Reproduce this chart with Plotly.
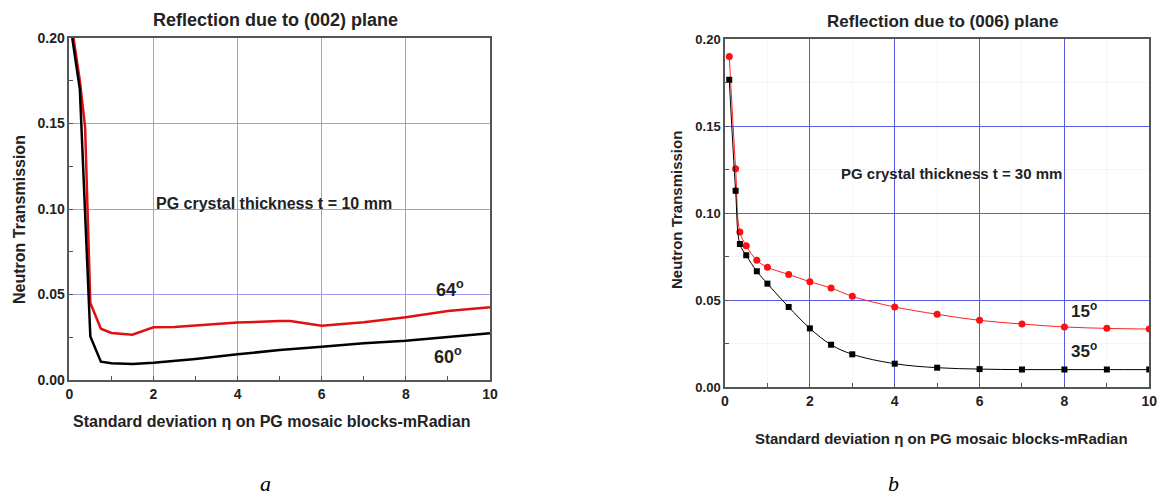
import plotly.graph_objects as go

# ---- Panel a: (002) plane, t = 10 mm ----
a_x = [0.1, 0.25, 0.375, 0.5, 0.75, 1.0, 1.5, 2.0, 2.5, 3.0, 4.0, 5.0, 5.25, 6.0, 7.0, 8.0, 9.0, 10.0]
a_64 = [0.200, 0.175, 0.148, 0.045, 0.030, 0.0275, 0.0265, 0.0308, 0.031, 0.032, 0.0336, 0.0345, 0.0345, 0.0318, 0.0338, 0.0367, 0.0404, 0.0425]
a_x60 = [0.07, 0.25, 0.5, 0.75, 1.0, 1.5, 2.0, 3.0, 4.0, 5.0, 6.0, 7.0, 8.0, 9.0, 10.0]
a_60 = [0.200, 0.170, 0.0254, 0.0107, 0.0098, 0.0094, 0.0101, 0.0123, 0.0150, 0.0176, 0.0195, 0.0215, 0.0230, 0.0250, 0.0273]

# ---- Panel b: (006) plane, t = 30 mm ----
b_x = [0.1, 0.25, 0.35, 0.5, 0.75, 1.0, 1.5, 2.0, 2.5, 3.0, 4.0, 5.0, 6.0, 7.0, 8.0, 9.0, 10.0]
b_15 = [0.190, 0.1255, 0.0891, 0.0812, 0.0728, 0.0688, 0.0647, 0.0605, 0.0569, 0.0521, 0.0460, 0.0418, 0.0383, 0.0362, 0.0345, 0.0337, 0.0333]
b_35 = [0.1766, 0.1128, 0.0822, 0.0757, 0.0665, 0.0594, 0.0460, 0.0337, 0.0243, 0.0188, 0.0134, 0.0111, 0.0103, 0.0100, 0.0100, 0.0100, 0.0100]

x_ticks = [0, 2, 4, 6, 8, 10]
y_ticks = [0.00, 0.05, 0.10, 0.15, 0.20]
y_tick_text = ["0.00", "0.05", "0.10", "0.15", "0.20"]

FONT = "Liberation Sans, Arial, sans-serif"
fig = go.Figure()

fig.add_trace(go.Scatter(x=a_x, y=a_64, mode="lines", line=dict(color="#e01010", width=2.5),
                         xaxis="x", yaxis="y", showlegend=False))
fig.add_trace(go.Scatter(x=a_x60, y=a_60, mode="lines", line=dict(color="#000000", width=2.5),
                         xaxis="x", yaxis="y", showlegend=False))
fig.add_trace(go.Scatter(x=b_x, y=b_15, mode="lines+markers", line=dict(color="#ff2020", width=1, shape="spline"),
                         marker=dict(symbol="circle", size=7, color="#ff1010"),
                         xaxis="x2", yaxis="y2", showlegend=False))
fig.add_trace(go.Scatter(x=b_x, y=b_35, mode="lines+markers", line=dict(color="#000000", width=1, shape="spline"),
                         marker=dict(symbol="square", size=6, color="#000000"),
                         xaxis="x2", yaxis="y2", showlegend=False))

def xax(domain, anchor, gridcolor, mgrid, fs):
    return dict(domain=domain, anchor=anchor, range=[0, 10], tickvals=x_ticks,
                showgrid=True, gridcolor=gridcolor, gridwidth=1,
                showline=True, linecolor="#555555", linewidth=1.5, mirror=True,
                ticks="inside", ticklen=4, tickcolor="#555555",
                minor=dict(dtick=1, ticks="inside", ticklen=4, tickcolor="#555555",
                           showgrid=mgrid, gridcolor="#f5f5f8"),
                tickfont=dict(family=FONT, size=fs, color="#222222", weight="bold"),
                zeroline=False, fixedrange=True, automargin=False)

def yax(domain, anchor, gridcolor, mgrid, fs):
    return dict(domain=domain, anchor=anchor, range=[0, 0.2], tickvals=y_ticks, ticktext=y_tick_text,
                showgrid=True, gridcolor=gridcolor, gridwidth=1,
                showline=True, linecolor="#555555", linewidth=1.5, mirror=True,
                ticks="inside", ticklen=4, tickcolor="#555555",
                minor=dict(dtick=0.025, ticks="inside", ticklen=4, tickcolor="#555555",
                           showgrid=mgrid, gridcolor="#f5f5f8"),
                tickfont=dict(family=FONT, size=fs, color="#222222", weight="bold"),
                zeroline=False, fixedrange=True, automargin=False)

fig.update_layout(
    width=1163, height=497, autosize=False,
    margin=dict(l=0, r=0, t=0, b=0, pad=0),
    paper_bgcolor="white", plot_bgcolor="white",
    xaxis=xax([0.0596, 0.4213], "y", "#9c9cf0", False, 14),
    yaxis=yax([0.2354, 0.9235], "x", "#9c9cf0", False, 14),
    xaxis2=xax([0.6234, 0.9882], "y2", "#5a5ae8", True, 14),
    yaxis2=yax([0.2213, 0.9215], "x2", "#5a5ae8", True, 13),
)

ann = []
def add(text, x, y, xref="paper", yref="paper", size=13, color="#222222", bold=True, textangle=0,
        family=FONT, italic=False):
    ann.append(dict(text=text, x=x, y=y, xref=xref, yref=yref, showarrow=False,
                    textangle=textangle, xanchor="center", yanchor="middle",
                    font=dict(family=family, size=size, color=color,
                              weight="bold" if bold else "normal",
                              style="italic" if italic else "normal")))

H, W = 497.0, 1163.0
add("Reflection due to (002) plane", 275 / W, 1 - 20 / H, size=18)
add("Reflection due to (006) plane", 942 / W, 1 - 22 / H, size=17)
add("Neutron Transmission", 19 / W, 1 - 220 / H, size=16, textangle=-90)
add("Neutron Transmission", 676 / W, 1 - 210 / H, size=15, textangle=-90)
add("Standard deviation \u03b7 on PG mosaic blocks-mRadian", 271 / W, 1 - 421 / H, size=16)
add("Standard deviation \u03b7 on PG mosaic blocks-mRadian", 941 / W, 1 - 438 / H, size=15)
add("PG crystal thickness t = 10 mm", 4.87, 0.1035, xref="x", yref="y", size=16)
add("PG crystal thickness t = 30 mm", 5.33, 0.1226, xref="x2", yref="y2", size=15)
add("64<sup>o</sup>", 9.04, 0.0535, xref="x", yref="y", size=18)
add("60<sup>o</sup>", 9.0, 0.0145, xref="x", yref="y", size=18)
add("15<sup>o</sup>", 8.46, 0.0443, xref="x2", yref="y2", size=17)
add("35<sup>o</sup>", 8.45, 0.0213, xref="x2", yref="y2", size=17)
add("a", 265 / W, 1 - 483 / H, size=22, color="#000000", bold=False, family="Liberation Serif, Times New Roman, serif", italic=True)
add("b", 893 / W, 1 - 483 / H, size=22, color="#000000", bold=False, family="Liberation Serif, Times New Roman, serif", italic=True)
fig.update_layout(annotations=ann)

fig.write_html("out.html", config={"displayModeBar": False},
               post_script="document.body.style.margin='0';document.body.style.padding='0';")
